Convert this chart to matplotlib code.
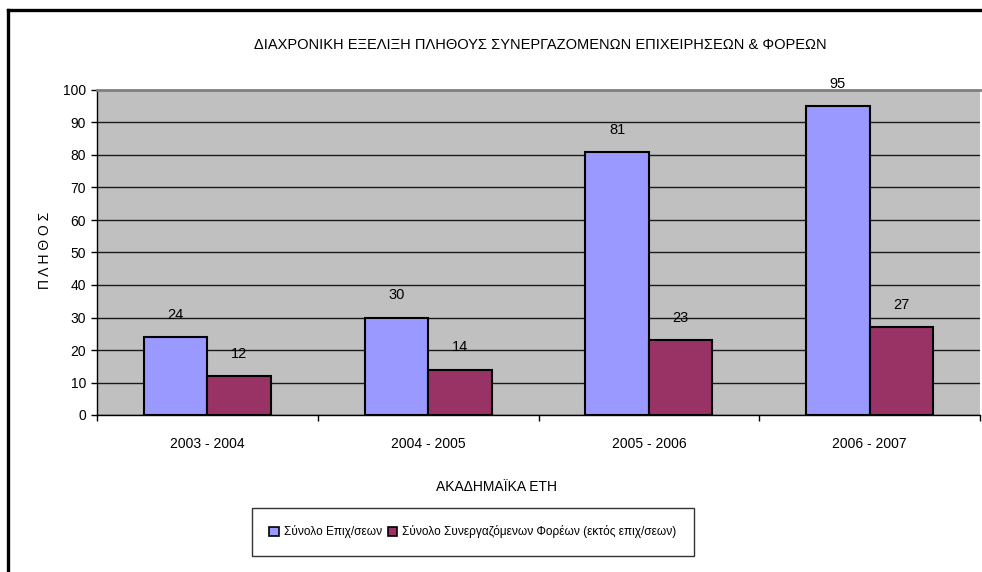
import matplotlib
matplotlib.use("Agg")
import matplotlib.pyplot as plt
import numpy as np
from matplotlib.lines import Line2D

plt.rcParams.update({
    "font.family": ["Liberation Sans", "DejaVu Sans"],
    "font.size": 10,
    "figure.facecolor": "white",
})

years = ["2003 - 2004", "2004 - 2005", "2005 - 2006", "2006 - 2007"]
companies = [24, 30, 81, 95]
bodies = [12, 14, 23, 27]
series_names = ["Σύνολο Επιχ/σεων",
                "Σύνολο Συνεργαζόμενων Φορέων (εκτός επιχ/σεων)"]

BLUE = "#9999ff"
MAROON = "#993366"
BW = 0.288

fig = plt.figure(figsize=(9.82, 5.72), dpi=100)
ax = fig.add_axes([97 / 982, 1 - 415 / 572, 883 / 982, 325 / 572])
ax.set_facecolor("#c0c0c0")

x = np.arange(len(years))
b1 = ax.bar(x - BW / 2, companies, BW, color=BLUE, edgecolor="black",
            linewidth=1.5, zorder=3, label=series_names[0])
b2 = ax.bar(x + BW / 2, bodies, BW, color=MAROON, edgecolor="black",
            linewidth=1.5, zorder=3, label=series_names[1])

for bars, vals in ((b1, companies), (b2, bodies)):
    for r, v in zip(bars, vals):
        ax.annotate(str(v), (r.get_x() + r.get_width() / 2, v),
                    xytext=(0, 16), textcoords="offset points",
                    ha="center", va="center", fontsize=10.5, zorder=4)

ax.set_xlim(-0.5, len(years) - 0.5)
ax.set_ylim(0, 100)
ax.set_yticks(range(0, 101, 10))
ax.yaxis.grid(True, color="#1a1a1a", linewidth=1.0, zorder=1)
ax.set_axisbelow(True)

ax.set_xticks(x)
ax.set_xticklabels(years)
ax.set_xticks(np.arange(-0.5, len(years)), minor=True)
ax.tick_params(axis="x", which="major", length=0, pad=16, labelsize=10)
ax.tick_params(axis="x", which="minor", length=4, width=1, color="black")
ax.tick_params(axis="y", length=4, width=1, labelsize=10, pad=4)

for s in ("left", "bottom"):
    ax.spines[s].set_color("black")
    ax.spines[s].set_linewidth(1.0)
ax.spines["top"].set_color("#808080")
ax.spines["top"].set_linewidth(2)
ax.spines["right"].set_visible(False)

fig.text(540 / 982, 1 - 45 / 572,
         "ΔΙΑΧΡΟΝΙΚΗ ΕΞΕΛΙΞΗ ΠΛΗΘΟΥΣ ΣΥΝΕΡΓΑΖΟΜΕΝΩΝ ΕΠΙΧΕΙΡΗΣΕΩΝ & ΦΟΡΕΩΝ",
         ha="center", va="center", fontsize=10.5)
fig.text(45 / 982, 1 - 250 / 572, "Π Λ Η Θ Ο Σ", rotation=90,
         ha="center", va="center", fontsize=10)
fig.text(496 / 982, 1 - 487 / 572, "ΑΚΑΔΗΜΑΪΚΑ ΕΤΗ",
         ha="center", va="center", fontsize=10)

leg = fig.legend(handles=[b1, b2], labels=series_names, loc="center",
                 bbox_to_anchor=(473 / 982, 1 - 532 / 572), ncol=2,
                 frameon=True, fancybox=False, fontsize=8.6,
                 handlelength=0.8, handleheight=0.8, handletextpad=0.4,
                 columnspacing=0.5, borderpad=1.45, borderaxespad=0,
                 edgecolor="black")
leg.get_frame().set_linewidth(1.0)
for h in leg.legend_handles:
    h.set_linewidth(1.2)

# outer border (left and top)
fig.add_artist(Line2D([8 / 982, 8 / 982], [0, 1 - 10 / 572],
                      transform=fig.transFigure, color="black", lw=2.4))
fig.add_artist(Line2D([8 / 982, 1], [1 - 10 / 572, 1 - 10 / 572],
                      transform=fig.transFigure, color="black", lw=2.4))

fig.savefig("out.png", dpi=100)
